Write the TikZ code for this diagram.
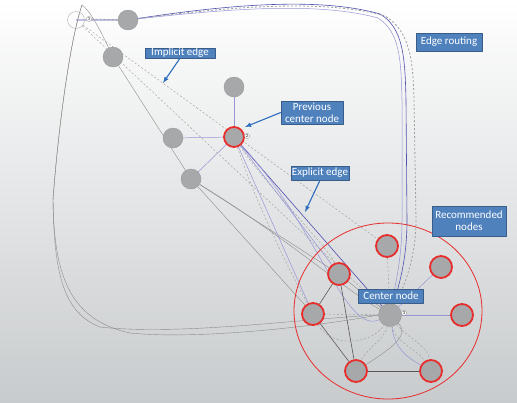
\documentclass[tikz,border=0pt]{standalone}
\usepackage{fontspec}
\setsansfont{Carlito}
\usepackage{xcolor}
\usepackage{tikz}
\usetikzlibrary{calc,backgrounds,shapes.geometric}
\definecolor{boxblue}{RGB}{79,129,189}
\definecolor{boxedge}{RGB}{56,93,138}
\definecolor{arrowblue}{RGB}{45,110,190}
\definecolor{nodegray}{RGB}{166,168,170}
\definecolor{ringred}{RGB}{232,45,45}
\definecolor{edgeblue}{RGB}{150,150,215}
\definecolor{darkblue}{RGB}{80,80,175}
\definecolor{edgegray}{RGB}{140,140,140}
\definecolor{bgbottom}{RGB}{200,203,205}

\begin{document}
\begin{tikzpicture}[x=1pt,y=-1pt,>=latex,line join=round,
  vert/.style={circle,fill=nodegray,draw=gray!80,thin,minimum size=20pt,inner sep=0pt},
  reco/.style={vert,draw=ringred,line width=1.8pt,minimum size=22pt},
  tag/.style={circle,fill=white,draw=gray,line width=0.3pt,inner sep=0.5pt,
    font=\sffamily\fontsize{4.5}{4.5}\selectfont},
  lbl/.style={fill=boxblue,draw=boxedge,line width=0.5pt,text=white,align=center,
    inner sep=0pt,font=\sffamily\fontsize{11}{12}\selectfont},
  callout/.style={->,draw=arrowblue,line width=1.1pt},
  light/.style={draw=edgeblue,line width=0.5pt},
  strong/.style={draw=darkblue,line width=0.6pt},
  plain/.style={draw=edgegray,line width=0.4pt},
  implicit/.style={draw=gray!75,line width=0.45pt,dash pattern=on 2pt off 2pt}]
  \useasboundingbox (0,0) rectangle (517,402);

  % earlier part of the walk
  \node[vert,fill=none,draw=gray!60,minimum size=17pt] (w) at (76,20) {};
  \node[vert] (g1) at (128,20) {};
  \node[vert] (g2) at (113,57) {};
  \node[vert] (g3) at (234,87) {};
  \node[vert] (g4) at (173,138) {};
  \node[vert] (g5) at (191,179) {};
  \node[reco,minimum size=20pt] (p) at (234,137) {};
  \coordinate (peak) at (82,5);

  % neighbourhood of the current center
  \node[draw=ringred,line width=0.8pt,ellipse,minimum width=188pt,minimum height=176pt] (group) at (388,311) {};
  \node[vert,minimum size=23pt] (c) at (390,315) {};
  \node[reco] (r1) at (387,246) {};
  \node[reco] (r2) at (441,267) {};
  \node[reco] (r3) at (339,274) {};
  \node[reco] (r4) at (313,314) {};
  \node[reco] (r5) at (462,315) {};
  \node[reco] (r6) at (356,371) {};
  \node[reco] (r7) at (431,371) {};

  % visit order
  \node[tag] (t1) at (89,19) {1};
  \node[tag] (t2) at (247,136) {2};
  \node[tag] (t3) at (404,313) {3};

  \begin{pgfonlayer}{background}
    \shade[top color=white,bottom color=bgbottom] (0,0) rectangle (517,402);
    % routed edges over the top
    \draw[strong] (w.center) -- (g1.center) .. controls (230,4) and (320,-3) .. (380,14)
      .. controls (404,28) and (405,60) .. (406,100) -- (407,220) .. controls (407,262) and (398,288) .. (c);
    \draw[implicit,line width=0.8pt] (t1) -- (g1.center) .. controls (232,6) and (325,-1) .. (385,16)
      .. controls (410,31) and (413,60) .. (414,100) -- (416,220) .. controls (416,262) and (402,290) .. (c);
    \draw[light] (g1.center) .. controls (232,8) and (320,2) .. (378,18)
      .. controls (400,32) and (401,60) .. (402,100) -- (402,220) .. controls (402,260) and (395,285) .. (c);
    % routed edges round the left
    \draw[plain] (peak) .. controls (70,40) and (58,130) .. (53,200)
      .. controls (54,280) and (72,320) .. (130,333) .. controls (200,340) and (320,326) .. (c.west);
    \draw[plain] (peak) .. controls (70,40) and (58,130) .. (53,200)
      .. controls (54,275) and (64,313) .. (100,327) .. controls (180,336) and (310,318) .. (c.west);
    \draw[plain] (peak) .. controls (92,12) and (104,38) .. (g2.center) -- (g5.center) -- (r4);
    \draw[plain] (g5) -- (r3);
    \draw[plain] (g5) .. controls (290,240) and (345,290) .. (c);
    % implicit edges
    \draw[implicit] (w) -- (r1);
    \draw[implicit] (w) -- (c);
    \draw[implicit] (p) .. controls (255,200) and (285,262) .. (r4);
    \draw[implicit] (p) .. controls (262,180) and (330,250) .. (r3);
    \draw[implicit] (r1) -- (c);
    \draw[implicit] (r4) -- (c);
    \draw[implicit] (r4) .. controls (330,348) and (372,345) .. (c);
    \draw[implicit] (c) .. controls (385,338) and (366,350) .. (r6);
    \draw[implicit] (c) .. controls (395,342) and (418,350) .. (r7);
    \draw[implicit] (c) .. controls (405,336) and (428,346) .. (r7);
    % explicit edges
    \draw[light] (p) -- (g3);
    \draw[light] (p) -- (g4);
    \draw[light] (p) -- (g5);
    \draw[light] (p) -- (r4);
    \draw[light] (p) -- (r3);
    \draw[strong] (p) -- (c);
    \draw[light] (p) .. controls (320,230) and (345,335) .. (c);
    \draw[light] (c) -- (r2);
    \draw[light] (c) -- (r5);
    \draw[light] (c) .. controls (395,348) and (405,356) .. (r7);
    \draw[plain] (r3) -- (c);
    \draw[plain] (c.south east) .. controls (410,335) and (392,348) .. (r6);
    \draw[plain,draw=gray!70!black,line width=0.6pt] (r3) -- (r4);
    \draw[plain,draw=gray!70!black,line width=0.6pt] (r3) -- (r6);
    \draw[plain,draw=gray!70!black,line width=0.6pt] (r4) -- (r6);
    \draw[plain,draw=gray!70!black,line width=0.6pt] (r6) -- (r7);
  \end{pgfonlayer}

  % annotations
  \node[lbl,minimum width=70pt,minimum height=10pt] (lblimplicit) at (180,53) {Implicit edge};
  \node[lbl,minimum width=62pt,minimum height=23pt] (lblprev) at (312,112.5) {Previous\\center node};
  \node[lbl,minimum width=58pt,minimum height=14pt] (lblexplicit) at (320,173) {Explicit edge};
  \node[lbl,minimum width=66pt,minimum height=18pt] (lblrouting) at (449,42) {Edge routing};
  \node[lbl,minimum width=74pt,minimum height=30pt] (lblreco) at (469,221) {Recommended\\nodes};
  \node[lbl,minimum width=65pt,minimum height=14pt] (lblcenter) at (391,296) {Center node};
  \coordinate (implicittip) at (163,83);
  \coordinate (prevtip) at (245,127);
  \coordinate (explicittip) at (305,212);
  \draw[callout] (lblimplicit.south) -- (implicittip);
  \draw[callout] (lblprev.west) -- (prevtip);
  \draw[callout] (lblexplicit.south) -- (explicittip);
\end{tikzpicture}
\end{document}
